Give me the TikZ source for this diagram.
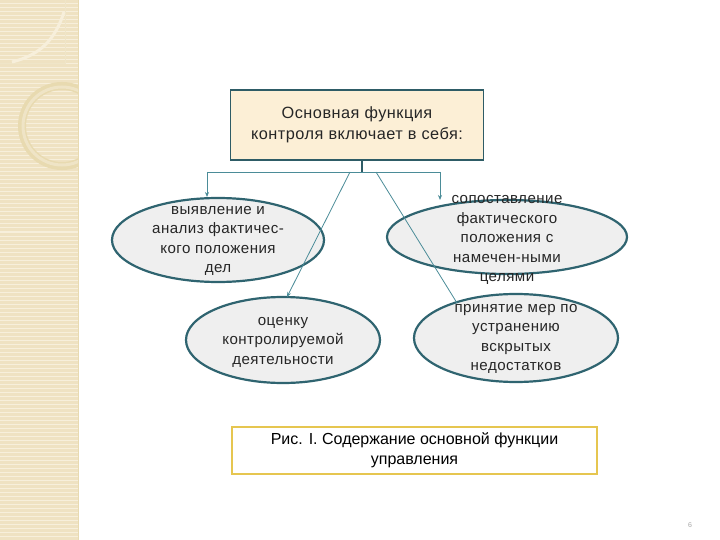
\documentclass[tikz,border=0pt]{standalone}
\usepackage{fontspec}
\setmainfont{Liberation Sans}
\newfontfamily\spacedfont[LetterSpace=3]{Liberation Sans}
\usetikzlibrary{arrows.meta}
\definecolor{boxline}{HTML}{2E5C66}
\definecolor{boxfill}{HTML}{FCEFD6}
\definecolor{ellline}{HTML}{2F6470}
\definecolor{ellfill}{HTML}{EFEFEF}
\definecolor{conn}{HTML}{4B8C98}
\definecolor{capline}{HTML}{E6C650}
\definecolor{strip}{HTML}{EFE2C2}
\definecolor{stripl}{HTML}{F7EFDB}
\definecolor{stripd}{HTML}{E8DAB0}
\tikzset{
  mainbox/.style={draw=boxline, line width=1.8pt, fill=boxfill, minimum width=253pt, minimum height=70pt, align=center, text=black!85, font=\spacedfont\fontsize{16.3}{21}\selectfont},
  ell/.style={draw=ellline, line width=2.2pt, fill=ellfill},
  elltext/.style={align=center, text=black!85, font=\spacedfont\fontsize{15.1}{19.5}\selectfont},
  connector/.style={draw=conn, line width=0.8pt},
  arr/.style={connector, -{Stealth[length=5pt,width=4pt]}},
  capbox/.style={draw=capline, line width=1.5pt, fill=white, minimum width=365pt, minimum height=47pt, align=center, font=\fontsize{16}{20}\selectfont},
}
\begin{document}
\begin{tikzpicture}[x=1pt,y=-1pt]
\useasboundingbox (0,0) rectangle (720,540);
\fill[white] (0,0) rectangle (720,540);
% decorative strip
\fill[strip] (0,0) rectangle (78,540);
\foreach \y in {0,4,...,540} {\draw[stripl, line width=1pt] (0,\y) -- (78,\y);}
\draw[stripd, line width=0.8pt] (78,0) -- (78,540);
\draw[stripd!70, line width=0.8pt] (0,63) -- (65,63) -- (65,0);
\draw[stripl, line width=3pt] (64,12) .. controls (55,40) and (40,55) .. (12,62);
\begin{scope}
\clip (0,0) rectangle (78,540);
\draw[stripd, line width=8pt] (62,126) circle (40pt);
\draw[stripl!50!stripd, line width=3pt] (62,126) circle (39pt);
\end{scope}
% top box
\node[mainbox] (top) at (357,125) {Основная функция\\контроля включает в себя:};
% ellipses
\draw[ell] (218,240) ellipse (106pt and 42pt);
\node[elltext] (e1) at (218,241) {выявление и\\анализ фактичес-\\кого положения\\дел};
\draw[ell] (507,237) ellipse (120pt and 37pt);
\node[elltext] (e2) at (507,240) {сопоставление\\фактического\\положения с\\намечен-ными\\целями};
\draw[ell] (283,340) ellipse (97pt and 43pt);
\node[elltext] (e3) at (283,342) {оценку\\контролируемой\\деятельности};
\draw[ell] (516,338) ellipse (102pt and 44pt);
\node[elltext] (e4) at (516,339) {принятие мер по\\устранению\\вскрытых\\недостатков};
% connectors
\coordinate (hc) at (362,172);
\coordinate (hl) at (207,172);
\coordinate (hr) at (440,172);
\coordinate (dl) at (350,172);
\coordinate (dr) at (376,172);
\coordinate (e1t) at (207,197);
\coordinate (e2t) at (440,200);
\coordinate (e3t) at (287,297);
\coordinate (e4t) at (457,303);
\draw[connector, line width=2.5pt, draw=boxline] (top.south -| hc) -- (hc);
\draw[connector] (hl) -- (hr);
\draw[arr] (hl) -- (e1t);
\draw[arr] (hr) -- (e2t);
\draw[arr] (dl) -- (e3t);
\draw[connector] (dr) -- (e4t);
% caption
\node[capbox] (cap) at (414.5,450.5) {Рис. I. Содержание основной функции\\управления};
\node[font=\fontsize{7}{8}\selectfont, text=black!35] (pg) at (690,525) {6};
\end{tikzpicture}
\end{document}
